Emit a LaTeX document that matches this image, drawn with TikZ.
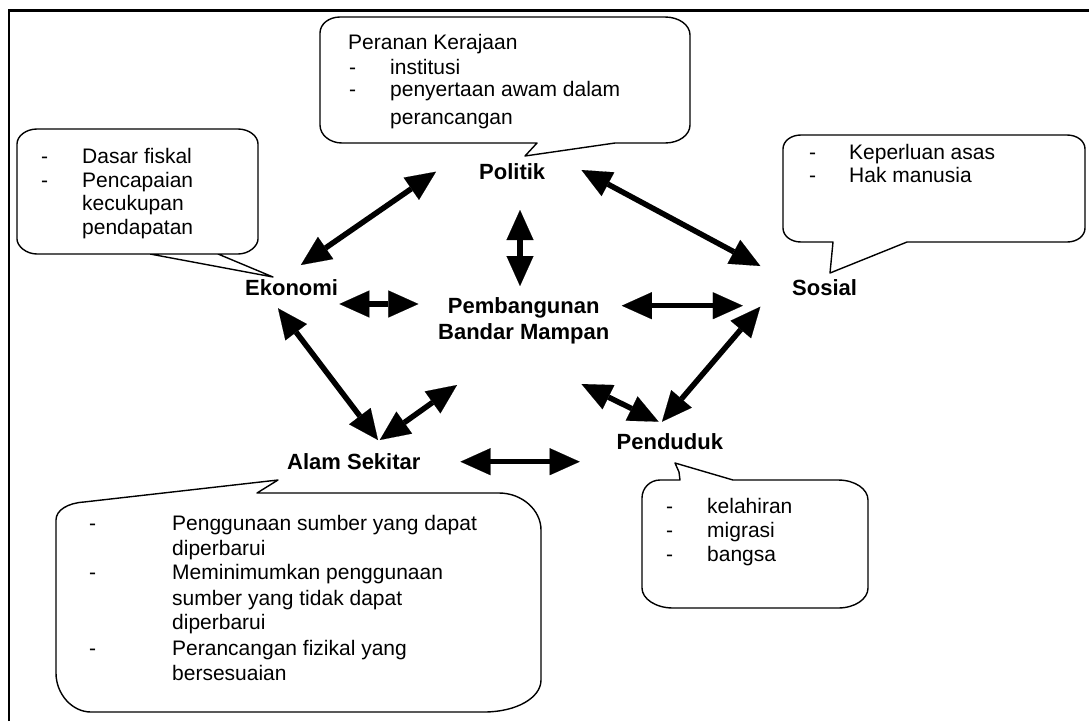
\documentclass[tikz,border=0pt]{standalone}
\usepackage{fontspec}
\setmainfont{Liberation Sans}
\usetikzlibrary{arrows.meta}
\begin{document}
\begin{tikzpicture}[x=1pt,y=-1pt,
  txt/.style={inner sep=0pt, anchor=base west, font=\fontsize{21}{23}\selectfont},
  lbl/.style={inner sep=0pt, anchor=base west, font=\fontsize{22}{26}\selectfont\bfseries},
  lblc/.style={inner sep=0pt, anchor=base, font=\fontsize{22}{26}\selectfont\bfseries},
  callout/.style={draw=black, line width=1.4pt, line join=round},
  dbl/.style={line width=5.5pt, {Triangle[length=30pt,width=27pt,line width=0.1pt]}-{Triangle[length=30pt,width=27pt,line width=0.1pt]}},
  frame/.style={line width=2.5pt}]
\useasboundingbox (0,0) rectangle (1089,721);
\fill[white] (0,0) rectangle (1089,721);

% frame (top and left edges)
\draw[frame] (9.2,721) -- (9.2,10.5) -- (1089,10.5);

% ---------- callouts ----------
% Politik
\draw[callout] (537,143) -- (525,156) -- (615,143) -- (665,143)
  .. controls (679,143) and (690,135) .. (690,125) -- (690,35)
  .. controls (690,25) and (679,17) .. (665,17) -- (340,17)
  .. controls (329,17) and (320,24) .. (320,33) -- (320,125)
  .. controls (320,135) and (330,143) .. (342,143) -- cycle;
% Ekonomi
\draw[callout] (218,254) -- (238,254)
  .. controls (249,254) and (258,246) .. (258,239) -- (258,144)
  .. controls (258,136) and (249,129) .. (238,129) -- (37,129)
  .. controls (26,129) and (17,136) .. (17,144) -- (17,239)
  .. controls (17,246) and (26,254) .. (37,254) -- (218,254)
  -- (273,277) -- (150,254);
% Sosial
\draw[callout] (833,242) -- (830,273) -- (907,242) -- (1067,242)
  .. controls (1077,242) and (1085,236) .. (1085,228) -- (1085,149)
  .. controls (1085,141) and (1077,135) .. (1067,135) -- (801,135)
  .. controls (791,135) and (783,141) .. (783,149) -- (783,228)
  .. controls (783,236) and (791,242) .. (801,242) -- cycle;
% Alam Sekitar
\draw[callout] (257,493) -- (499,493)
  .. controls (522,493) and (541,510) .. (541,530) -- (541,680)
  .. controls (541,698) and (516,712) .. (484,712) -- (91,712)
  .. controls (72,712) and (56,694) .. (56,673) -- (56,520)
  .. controls (56,510) and (68,503) .. (84,502) -- (278,480) -- cycle;
% Penduduk
\draw[callout] (733,480) -- (838,480)
  .. controls (855,480) and (868,489) .. (868,500) -- (868,588)
  .. controls (868,599) and (855,608) .. (838,608) -- (673,608)
  .. controls (656,608) and (642,599) .. (642,588) -- (642,498)
  .. controls (642,488) and (650,480) .. (660,480) -- (680,480)
  -- (679,472) -- (675,463) -- cycle;

% ---------- callout texts ----------
\node[txt] (p0) at (348,49.5) {Peranan Kerajaan};
\node[txt] (p1d) at (349,74) {-};
\node[txt] (p1) at (390,74) {institusi};
\node[txt] (p2d) at (349,96.7) {-};
\node[txt] (p2) at (390,96.7) {penyertaan awam dalam};
\node[txt] (p3) at (390,124) {perancangan};

\node[txt] (e1d) at (41,163.3) {-};
\node[txt] (e1) at (82,163.3) {Dasar fiskal};
\node[txt] (e2d) at (41,187.3) {-};
\node[txt] (e2) at (82,187.3) {Pencapaian};
\node[txt] (e3) at (82,210.7) {kecukupan};
\node[txt] (e4) at (82,234) {pendapatan};

\node[txt] (s1d) at (809,159.3) {-};
\node[txt] (s1) at (849,159.3) {Keperluan asas};
\node[txt] (s2d) at (809,182.7) {-};
\node[txt] (s2) at (849,182.7) {Hak manusia};

\node[txt] (a1d) at (89,530.7) {-};
\node[txt] (a1) at (172,530.7) {Penggunaan sumber yang dapat};
\node[txt] (a2) at (172,555) {diperbarui};
\node[txt] (a3d) at (89,579.3) {-};
\node[txt] (a3) at (172,579.3) {Meminimumkan penggunaan};
\node[txt] (a4) at (172,605) {sumber yang tidak dapat};
\node[txt] (a5) at (172,629.3) {diperbarui};
\node[txt] (a6d) at (89,655) {-};
\node[txt] (a6) at (172,655) {Perancangan fizikal yang};
\node[txt] (a7) at (172,680.7) {bersesuaian};

\node[txt] (d1d) at (666,513.3) {-};
\node[txt] (d1) at (707,513.3) {kelahiran};
\node[txt] (d2d) at (666,537.3) {-};
\node[txt] (d2) at (707,537.3) {migrasi};
\node[txt] (d3d) at (666,561.7) {-};
\node[txt] (d3) at (707,561.7) {bangsa};

% ---------- main labels ----------
\node[lbl] (politik) at (479,179) {Politik};
\node[lbl] (ekonomi) at (245,295) {Ekonomi};
\node[lblc] (pb1) at (523.7,313.3) {Pembangunan};
\node[lblc] (pb2) at (523.7,339.3) {Bandar Mampan};
\node[lbl] (sosial) at (792,295) {Sosial};
\node[lbl] (alam) at (287,469.3) {Alam Sekitar};
\node[lbl] (penduduk) at (616.5,449.3) {Penduduk};

% ---------- arrow end points ----------
\coordinate (pe1) at (436,171.7);   \coordinate (pe2) at (300.9,265);
\coordinate (ps1) at (581.5,170);   \coordinate (ps2) at (760.3,266);
\coordinate (pp1) at (520,210);     \coordinate (pp2) at (520,286);
\coordinate (ep1) at (339.4,304);   \coordinate (ep2) at (418.4,304);
\coordinate (bs1) at (621.8,305.7); \coordinate (bs2) at (742.8,305.7);
\coordinate (ea1) at (278,308.3);   \coordinate (ea2) at (378,440);
\coordinate (ab1) at (379.8,440);   \coordinate (ab2) at (457,385);
\coordinate (bd1) at (581.5,384);   \coordinate (bd2) at (658.6,421.7);
\coordinate (sd1) at (760.3,306.7); \coordinate (sd2) at (662,421.7);
\coordinate (ad1) at (460.5,461.7); \coordinate (ad2) at (579.7,461.7);

% ---------- arrows ----------
\draw[dbl] (pe1) -- (pe2);
\draw[dbl] (ps1) -- (ps2);
\draw[dbl] (pp1) -- (pp2);
\draw[dbl] (ep1) -- (ep2);
\draw[dbl] (bs1) -- (bs2);
\draw[dbl] (ea1) -- (ea2);
\draw[dbl] (ab1) -- (ab2);
\draw[dbl] (bd1) -- (bd2);
\draw[dbl] (sd1) -- (sd2);
\draw[dbl] (ad1) -- (ad2);
\end{tikzpicture}
\end{document}
